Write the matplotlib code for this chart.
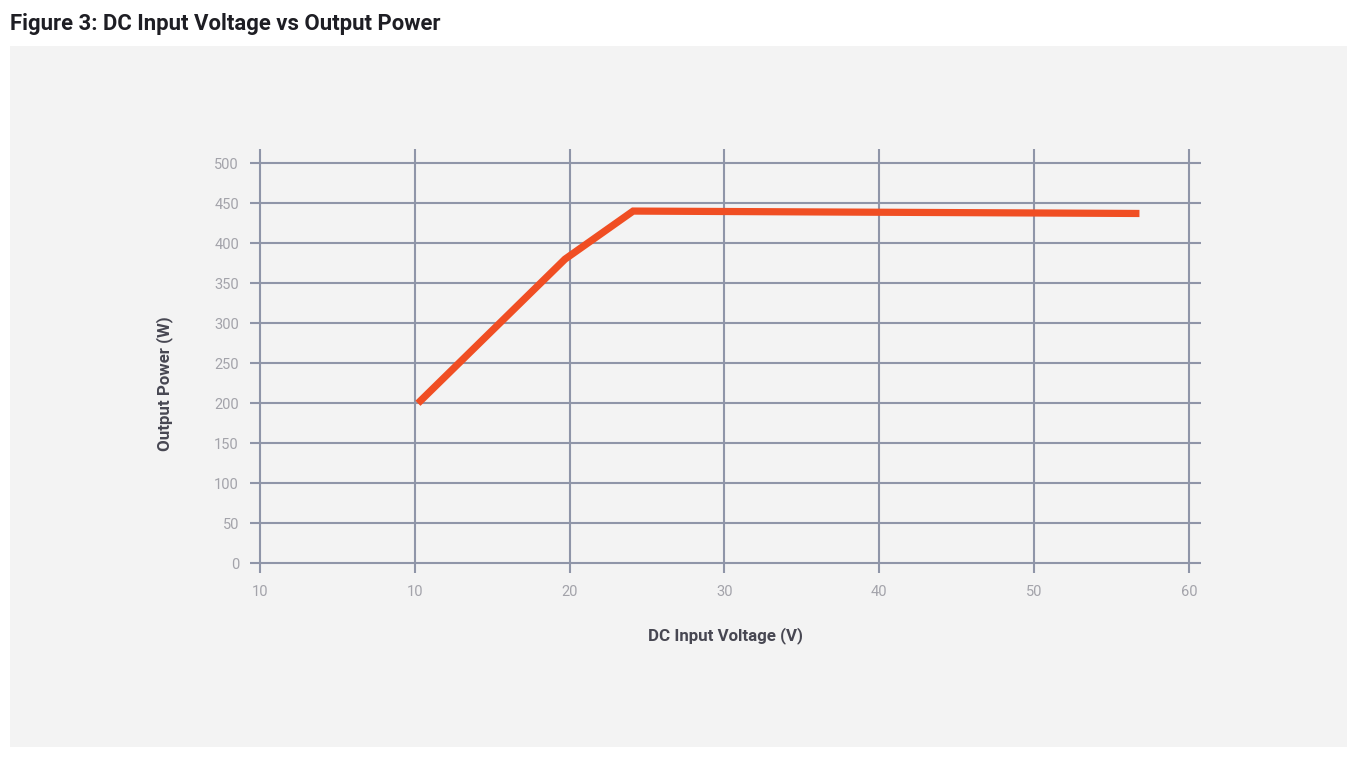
import matplotlib
matplotlib.use('Agg')  # Non-interactive backend
import matplotlib.pyplot as plt
from matplotlib.patches import Rectangle

# data
voltage = [10.2, 19.7, 24.1, 56.8]
power = [200, 380, 440, 437]
x_ticks = [0, 10, 20, 30, 40, 50, 60]
x_tick_labels = ["10", "10", "20", "30", "40", "50", "60"]
y_ticks = [0, 50, 100, 150, 200, 250, 300, 350, 400, 450, 500]

plt.rcParams['font.family'] = ['Roboto', 'DejaVu Sans']

W, H = 1358, 760
fig = plt.figure(figsize=(W / 100, H / 100), dpi=100)
fig.patch.set_facecolor('white')

# grey panel behind the chart
fig.patches.append(Rectangle((10 / W, 1 - 747 / H), 1337 / W, 701 / H,
                             transform=fig.transFigure, facecolor='#f3f3f3',
                             edgecolor='none', zorder=-5))

fig.text(10 / W, 1 - 24 / H, "Figure 3: DC Input Voltage vs Output Power",
         fontsize=15.9, fontweight='bold', color='#1e1e24', va='center')

# axes box spans the grid line extents (grid lines overhang a little)
ax = fig.add_axes([250 / W, 1 - 573 / H, 951 / W, 424 / H], zorder=2)
ax.patch.set_alpha(0)
grid_col = '#8f95a8'
for xv in x_ticks:
    ax.axvline(xv, color=grid_col, lw=1.5, zorder=1)
for yv in y_ticks:
    ax.axhline(yv, color=grid_col, lw=1.5, zorder=1)

ax.plot(voltage, power, color='#f04e23', lw=5.2, solid_capstyle='butt',
        solid_joinstyle='miter', zorder=3)

ax.set_xlim(-10 / 15.48, 60 + 12 / 15.48)
ax.set_ylim(-9.5 / 0.8, 500 + 14 / 0.8)
ax.set_xticks(x_ticks)
ax.set_xticklabels(x_tick_labels)
ax.set_yticks(y_ticks)
ax.tick_params(length=0, labelsize=10.5, labelcolor='#a3a3aa')
ax.tick_params(axis='y', pad=8)
ax.tick_params(axis='x', pad=9)
for s in ax.spines.values():
    s.set_visible(False)

fig.text(165 / W, 1 - 384 / H, "Output Power (W)", rotation=90, fontsize=12.2,
         fontweight='bold', color='#474752', ha='center', va='center')
fig.text(725 / W, 1 - 636 / H, "DC Input Voltage (V)", fontsize=12.2,
         fontweight='bold', color='#474752', ha='center', va='center')

fig.savefig('out.png', dpi=100)
